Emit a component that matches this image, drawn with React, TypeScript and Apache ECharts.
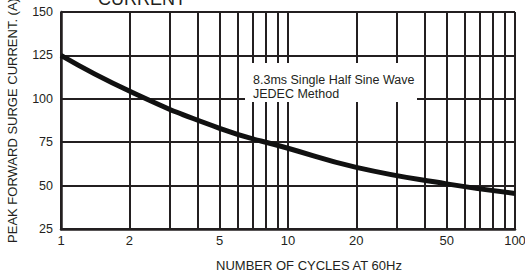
import React, { useEffect, useRef } from "react";
import * as echarts from "echarts";

const cycles = [1, 2, 5, 10, 20, 50, 100];
const peakCurrent = [125, 104.5, 83, 71.5, 60.5, 51, 45.5];
const xGridValues = [1, 2, 3, 4, 5, 6, 7, 8, 9, 10, 20, 30, 40, 50, 60, 70, 80, 90, 100];
const xLabelValues = [1, 2, 5, 10, 20, 50, 100];
const yTicks = [25, 50, 75, 100, 125, 150];

const titleText = "CURRENT";
const yName = "PEAK FORWARD SURGE CURRENT. (A)";
const xName = "NUMBER OF CYCLES AT 60Hz";
const noteLines = ["8.3ms Single Half Sine Wave", "JEDEC Method"];

export default function App() {
  const ref = useRef<HTMLDivElement>(null);
  useEffect(() => {
    if (!ref.current) return;
    const chart = echarts.init(ref.current, null, { renderer: "svg" });
    const font = "Liberation Sans, Arial, sans-serif";
    const ink = "#231f20";
    chart.setOption({
      animation: false,
      backgroundColor: "#fff",
      grid: {
        left: 61,
        right: 10,
        top: 12,
        bottom: 48,
        containLabel: false,
        outerBoundsMode: "none",
      },
      xAxis: {
        type: "log",
        logBase: 10,
        min: 1,
        max: 100,
        axisLine: { show: true, lineStyle: { color: ink, width: 2.5 } },
        axisTick: { show: false, customValues: xGridValues },
        axisLabel: {
          customValues: xLabelValues,
          color: ink,
          fontFamily: font,
          fontSize: 13,
          margin: 5,
        },
        splitLine: { show: true, lineStyle: { color: ink, width: 2 } },
      },
      yAxis: {
        type: "value",
        min: 25,
        max: 150,
        interval: 25,
        name: yName,
        nameLocation: "middle",
        nameGap: 42,
        nameTextStyle: { color: ink, fontFamily: font, fontSize: 13 },
        axisLine: { show: true, lineStyle: { color: ink, width: 2.5 } },
        axisTick: { show: false },
        axisLabel: {
          color: ink,
          fontFamily: font,
          fontSize: 12.5,
          margin: 8,
          customValues: yTicks,
        },
        splitLine: { show: true, lineStyle: { color: ink, width: 2 } },
      },
      series: [
        {
          type: "line",
          data: cycles.map((c, i) => [c, peakCurrent[i]]),
          smooth: 0.5,
          showSymbol: false,
          lineStyle: { color: "#111", width: 5 },
          z: 5,
        },
      ],
      graphic: [
        {
          type: "rect",
          shape: { x: 245, y: 63, width: 172, height: 39 },
          style: { fill: "#fff" },
          z: 100,
        },
        {
          type: "text",
          x: 253,
          y: 73,
          z: 101,
          style: {
            text: noteLines.join("\n"),
            font: `12.5px ${font}`,
            fill: ink,
            lineHeight: 14,
          },
        },
        {
          type: "text",
          x: 98,
          y: 8,
          style: {
            text: titleText,
            font: `18px ${font}`,
            fill: ink,
            verticalAlign: "bottom",
          },
        },
        {
          type: "text",
          x: 309,
          y: 265,
          style: {
            text: xName,
            font: `13px ${font}`,
            fill: ink,
            align: "center",
            verticalAlign: "middle",
          },
        },
      ],
    });
    return () => chart.dispose();
  }, []);
  return (
    <div
      ref={ref}
      style={{ position: "fixed", left: 0, top: 0, width: 525, height: 277 }}
    />
  );
}
